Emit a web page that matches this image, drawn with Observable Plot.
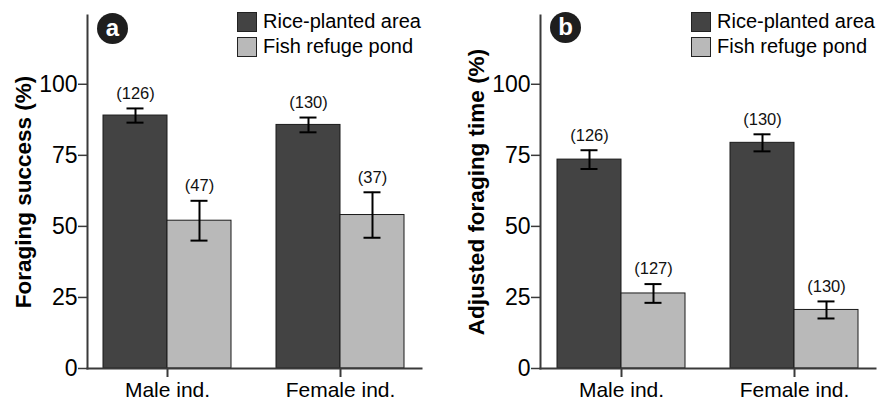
<!DOCTYPE html>
<html>
<head>
<meta charset="utf-8">
<script src="https://cdn.jsdelivr.net/npm/d3@7"></script>
<script src="https://cdn.jsdelivr.net/npm/@observablehq/plot@0.6"></script>
<style>
  html, body { margin: 0; padding: 0; background: #fff; }
  #wrap { position: relative; width: 877px; height: 403px; overflow: hidden; font-family: "Liberation Sans", Arial, sans-serif; }
  .panel { position: absolute; top: 0; }
  .badge { position: absolute; width: 31px; height: 31px; border-radius: 50%; background: #1e1e1e; color: #fff;
           font-weight: bold; font-size: 24px; line-height: 29px; text-align: center; }
  .legend { position: absolute; font-size: 20px; color: #000; }
  .legend .row { display: flex; align-items: center; height: 25px; white-space: nowrap; }
  .legend .sw { width: 18px; height: 18px; border: 1px solid #222; margin-right: 6px; flex: none; }
</style>
</head>
<body>
<div id="wrap"></div>
<script>
const groups = ["Male ind.", "Female ind."];
const series = ["Rice-planted area", "Fish refuge pond"];
const yTicks = [0, 25, 50, 75, 100];

// Panel a: foraging success (%)
const successRice = [89.0, 85.7];
const successRiceErr = [2.5, 2.6];
const successPond = [52.0, 54.0];
const successPondErr = [7.0, 8.0];
const successRiceN = [126, 130];
const successPondN = [47, 37];

// Panel b: adjusted foraging time (%)
const timeRice = [73.5, 79.4];
const timeRiceErr = [3.3, 3.0];
const timePond = [26.4, 20.6];
const timePondErr = [3.3, 3.0];
const timeRiceN = [126, 130];
const timePondN = [127, 130];

const colors = ["#434343", "#b9b9b9"];

function rows(vals, errs, ns) {
  return groups.map((g, i) => ({group: g, value: vals[i], lo: vals[i] - errs[i], hi: vals[i] + errs[i], n: "(" + ns[i] + ")"}));
}

function panel({title, rice, pond, width, marginLeft, marginRight}) {
  const half = 64, cap = 8.5;
  const errMarks = (data, side) => {
    const dx = side === 0 ? -32 : 32;
    const insL = side === 0 ? 32 - cap : 96 - cap;
    const insR = side === 0 ? 96 - cap : 32 - cap;
    return [
      Plot.ruleX(data, {x: "group", y1: "lo", y2: "hi", dx, stroke: "#000", strokeWidth: 2}),
      Plot.tickY(data, {x: "group", y: "lo", stroke: "#000", strokeWidth: 2, insetLeft: insL, insetRight: insR}),
      Plot.tickY(data, {x: "group", y: "hi", stroke: "#000", strokeWidth: 2, insetLeft: insL, insetRight: insR}),
      Plot.text(data, {x: "group", y: "hi", text: "n", dx, dy: -15, lineAnchor: "middle", fontSize: 16.5, fill: "#111"})
    ];
  };
  return Plot.plot({
    width, height: 403,
    marginLeft, marginRight, marginTop: 15, marginBottom: 35,
    style: {fontFamily: "'Liberation Sans', Arial, sans-serif", background: "transparent", overflow: "visible"},
    x: {domain: groups, paddingInner: 0.26, paddingOuter: 0.095, label: null},
    y: {domain: [0, 124.2], label: null},
    marks: [
      Plot.barY(rice, {x: "group", y: "value", fill: colors[0], stroke: "#1a1a1a", strokeWidth: 1, insetRight: half}),
      Plot.barY(pond, {x: "group", y: "value", fill: colors[1], stroke: "#1a1a1a", strokeWidth: 1, insetLeft: half}),
      ...errMarks(rice, 0),
      ...errMarks(pond, 1),
      Plot.frame({anchor: "left", stroke: "#3a3a3a", strokeWidth: 2}),
      Plot.frame({anchor: "bottom", stroke: "#3a3a3a", strokeWidth: 2}),
      Plot.axisY({ticks: yTicks, tickSize: 9, tickPadding: 1, fontSize: 23, stroke: "#3a3a3a", strokeWidth: 1.5, fill: "#000", label: null}),
      Plot.axisX({tickSize: 9, tickPadding: 5, fontSize: 21, stroke: "#3a3a3a", strokeWidth: 2, fill: "#000", label: null}),
      Plot.text([title], {frameAnchor: "left", rotate: -90, dx: -64, fontSize: 22.5, fontWeight: "bold", fill: "#000", textAnchor: "middle"})
    ]
  });
}

const wrap = document.getElementById("wrap");

const pa = document.createElement("div");
pa.className = "panel"; pa.style.left = "0px";
pa.appendChild(panel({title: "Foraging success (%)",
  rice: rows(successRice, successRiceErr, successRiceN),
  pond: rows(successPond, successPondErr, successPondN),
  width: 440, marginLeft: 87, marginRight: 19}));
wrap.appendChild(pa);

const pb = document.createElement("div");
pb.className = "panel"; pb.style.left = "440px";
pb.appendChild(panel({title: "Adjusted foraging time (%)",
  rice: rows(timeRice, timeRiceErr, timeRiceN),
  pond: rows(timePond, timePondErr, timePondN),
  width: 437, marginLeft: 100, marginRight: 2}));
wrap.appendChild(pb);

function badge(letter, left, top) {
  const b = document.createElement("div");
  b.className = "badge"; b.textContent = letter;
  b.style.left = left + "px"; b.style.top = top + "px";
  wrap.appendChild(b);
}
badge("a", 97, 13);
badge("b", 550, 12);

function legend(left, top) {
  const lg = document.createElement("div");
  lg.className = "legend"; lg.style.left = left + "px"; lg.style.top = top + "px";
  series.forEach((s, i) => {
    const r = document.createElement("div"); r.className = "row";
    const sw = document.createElement("div"); sw.className = "sw"; sw.style.background = colors[i];
    const t = document.createElement("span"); t.textContent = s;
    r.appendChild(sw); r.appendChild(t); lg.appendChild(r);
  });
  wrap.appendChild(lg);
}
legend(237, 9);
legend(691, 9);
</script>
</body>
</html>
